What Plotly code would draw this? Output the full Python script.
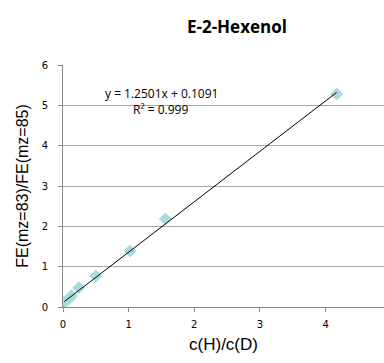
import plotly.graph_objects as go

x_vals = [0.02, 0.06, 0.10, 0.13, 0.24, 0.50, 1.02, 1.56, 4.17]
y_vals = [0.11, 0.17, 0.22, 0.28, 0.48, 0.77, 1.39, 2.18, 5.28]
slope = 1.2501
intercept = 0.1091
r2_text = "R² = 0.999"
eq_text = "y = 1.2501x + 0.1091"
x_ticks = [0, 1, 2, 3, 4]
y_ticks = [0, 1, 2, 3, 4, 5, 6]

x0, x1 = min(x_vals), max(x_vals)

fig = go.Figure()
fig.add_trace(go.Scatter(x=x_vals, y=y_vals, mode="markers",
                         marker=dict(symbol="diamond", size=10, color="#a8dadf",
                                     line=dict(width=0)),
                         showlegend=False))
fig.add_trace(go.Scatter(x=[x0, x1], y=[slope * x0 + intercept, slope * x1 + intercept],
                         mode="lines", line=dict(color="black", width=1),
                         showlegend=False))

fig.update_layout(
    width=384, height=363,
    margin=dict(l=63, r=0, t=65, b=56),
    paper_bgcolor="white", plot_bgcolor="white",
    title=dict(text="<b>E-2-Hexenol</b>", x=0.617, xanchor="center", y=0.925, yanchor="middle",
               font=dict(family="Open Sans", size=17, color="black")),
    xaxis=dict(range=[0, 4.89], tickvals=x_ticks, showgrid=False, zeroline=False,
               showline=True, linecolor="#888888", linewidth=1,
               ticks="outside", ticklen=4, tickcolor="#888888",
               tickfont=dict(family="DejaVu Sans", size=10, color="black"),
               ticklabelstandoff=4,
               title=dict(text="c(H)/c(D)", font=dict(family="Liberation Sans", size=17, color="black"),
                          standoff=9)),
    yaxis=dict(range=[0, 6], tickvals=y_ticks, showgrid=True, gridcolor="#a6a6a6", gridwidth=1,
               zeroline=False, showline=True, linecolor="#888888", linewidth=1,
               ticks="outside", ticklen=4, tickcolor="#888888",
               tickfont=dict(family="DejaVu Sans", size=10, color="black"),
               ticklabelstandoff=8,
               title=dict(text="FE(mz=83)/FE(mz=85)", font=dict(family="Liberation Sans", size=16, color="black"),
                          standoff=9)),
)
fig.add_annotation(x=1.5, y=5.30, xref="x", yref="y", text=eq_text, showarrow=False,
                   font=dict(family="Open Sans", size=12, color="black"), xanchor="center", yanchor="middle")
fig.add_annotation(x=1.49, y=4.90, xref="x", yref="y", text=r2_text, showarrow=False,
                   font=dict(family="Open Sans", size=12, color="black"), xanchor="center", yanchor="middle")

fig.write_html("out.html")
